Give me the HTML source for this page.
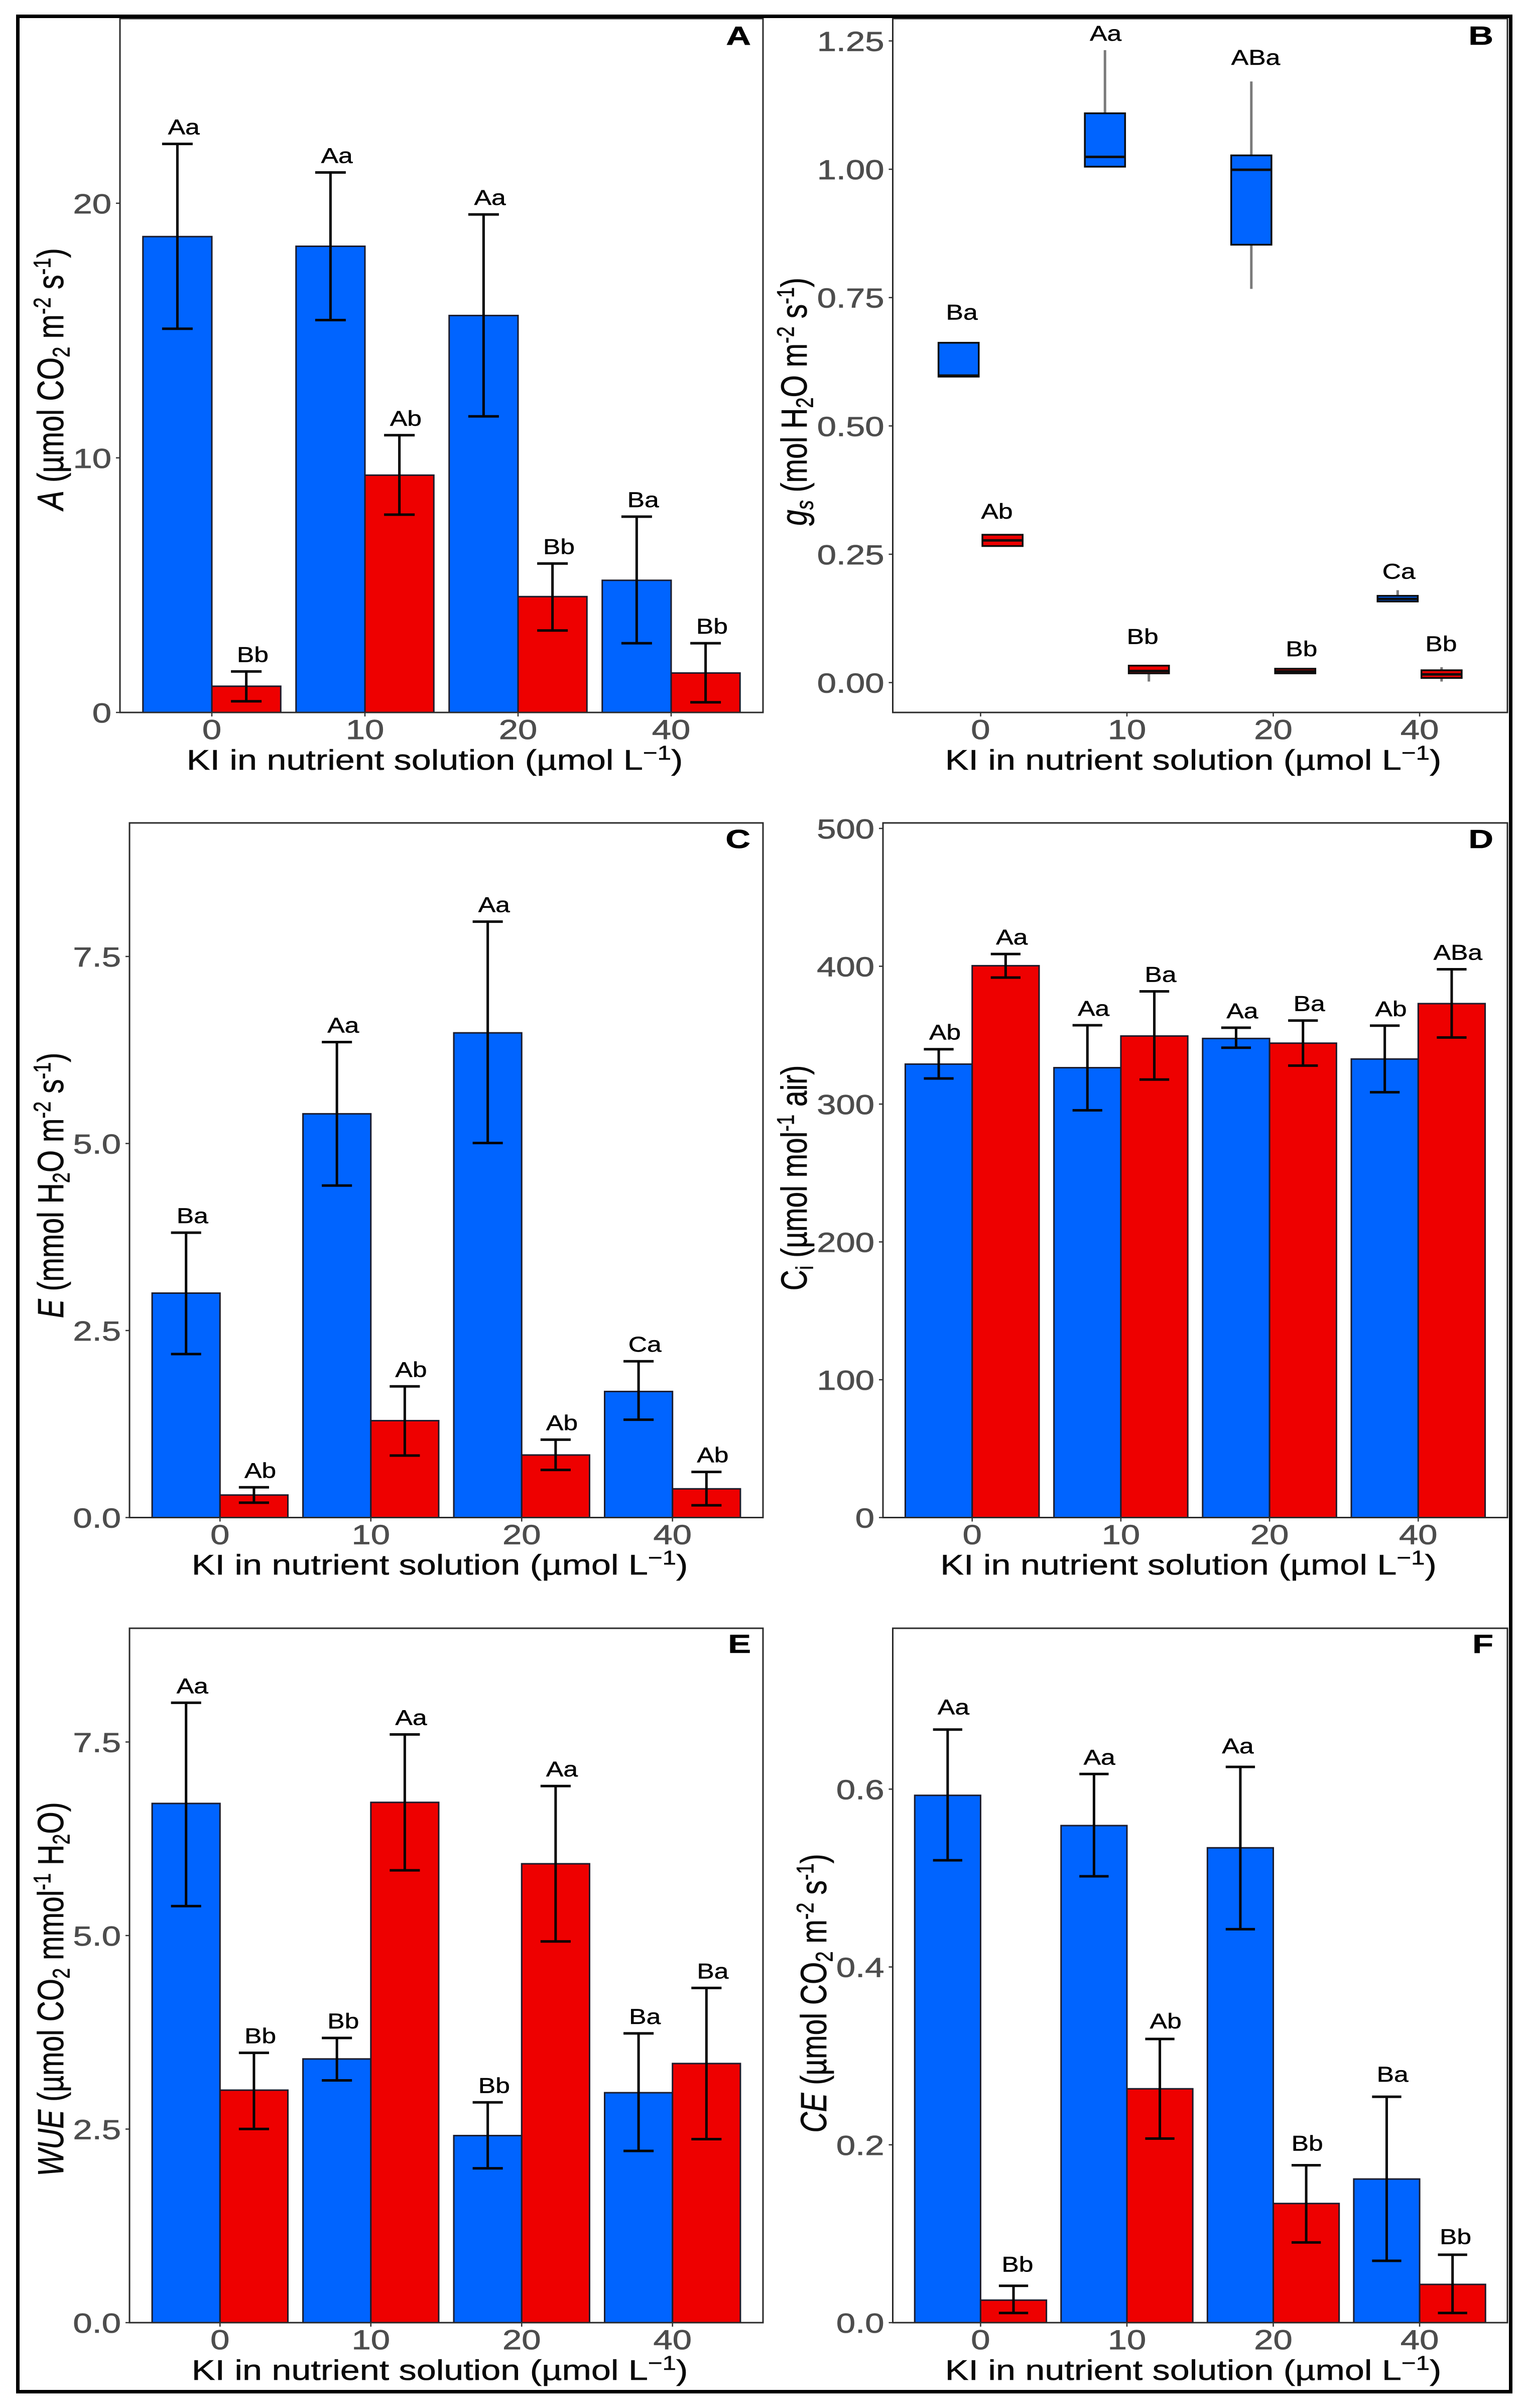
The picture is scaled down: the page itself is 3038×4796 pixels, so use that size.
<!DOCTYPE html>
<html lang="en">
<head>
<meta charset="utf-8">
<title>Gas exchange responses to KI in nutrient solution</title>
<style>
html,body{margin:0;padding:0;background:#fff;}
svg{display:block;}
text{font-family:"Liberation Sans",sans-serif;}
.ytitle,.xtitle{fill:#0a0a0a;stroke:#0a0a0a;stroke-width:0.6;}
.panel-letter{font-weight:bold;fill:#000;stroke:#000;stroke-width:0.6;}
</style>
</head>
<body>
<svg id="figure" xmlns="http://www.w3.org/2000/svg" width="3038" height="4796" viewBox="0 0 3038 4796">
  <rect x="0" y="0" width="3038" height="4796" fill="#ffffff"/>
  <g id="plots"></g>

  <!-- X axis titles -->
  <text class="xtitle" text-anchor="middle" font-size="57" transform="translate(866,1533) scale(1.23,1)">KI in nutrient solution (µmol L<tspan font-size="40" dy="-20">−1</tspan><tspan dy="20">)</tspan></text>
  <text class="xtitle" text-anchor="middle" font-size="57" transform="translate(2377,1533) scale(1.23,1)">KI in nutrient solution (µmol L<tspan font-size="40" dy="-20">−1</tspan><tspan dy="20">)</tspan></text>
  <text class="xtitle" text-anchor="middle" font-size="57" transform="translate(876,3136) scale(1.23,1)">KI in nutrient solution (µmol L<tspan font-size="40" dy="-20">−1</tspan><tspan dy="20">)</tspan></text>
  <text class="xtitle" text-anchor="middle" font-size="57" transform="translate(2367.5,3136) scale(1.23,1)">KI in nutrient solution (µmol L<tspan font-size="40" dy="-20">−1</tspan><tspan dy="20">)</tspan></text>
  <text class="xtitle" text-anchor="middle" font-size="57" transform="translate(876,4740) scale(1.23,1)">KI in nutrient solution (µmol L<tspan font-size="40" dy="-20">−1</tspan><tspan dy="20">)</tspan></text>
  <text class="xtitle" text-anchor="middle" font-size="57" transform="translate(2377,4740) scale(1.23,1)">KI in nutrient solution (µmol L<tspan font-size="40" dy="-20">−1</tspan><tspan dy="20">)</tspan></text>

  <!-- Y axis titles -->
  <text class="ytitle" text-anchor="middle" font-size="58" transform="translate(126,755) scale(1.27,1) rotate(-90)"><tspan font-style="italic">A</tspan> (µmol CO<tspan font-size="38" dy="10">2</tspan><tspan dy="-10"> m</tspan><tspan font-size="38" dy="-20">-2</tspan><tspan dy="20"> s</tspan><tspan font-size="38" dy="-20">-1</tspan><tspan dy="20">)</tspan></text>
  <text class="ytitle" text-anchor="middle" font-size="57" transform="translate(1607,800) scale(1.27,1) rotate(-90)"><tspan font-style="italic">g</tspan><tspan font-style="italic" font-size="38" dy="10">s</tspan><tspan dy="-10"> (mol H</tspan><tspan font-size="38" dy="10">2</tspan><tspan dy="-10">O m</tspan><tspan font-size="38" dy="-20">-2</tspan><tspan dy="20"> s</tspan><tspan font-size="38" dy="-20">-1</tspan><tspan dy="20">)</tspan></text>
  <text class="ytitle" text-anchor="middle" font-size="57" transform="translate(126,2361) scale(1.27,1) rotate(-90)"><tspan font-style="italic">E</tspan> (mmol H<tspan font-size="38" dy="10">2</tspan><tspan dy="-10">O m</tspan><tspan font-size="38" dy="-20">-2</tspan><tspan dy="20"> s</tspan><tspan font-size="38" dy="-20">-1</tspan><tspan dy="20">)</tspan></text>
  <text class="ytitle" text-anchor="middle" font-size="57" transform="translate(1607,2346) scale(1.27,1) rotate(-90)">C<tspan font-size="38" dy="10">i</tspan><tspan dy="-10"> (µmol mol</tspan><tspan font-size="38" dy="-20">-1</tspan><tspan dy="20"> air)</tspan></text>
  <text class="ytitle" text-anchor="middle" font-size="57" transform="translate(126,3962) scale(1.27,1) rotate(-90)"><tspan font-style="italic">WUE</tspan> (µmol CO<tspan font-size="38" dy="10">2</tspan><tspan dy="-10"> mmol</tspan><tspan font-size="38" dy="-20">-1</tspan><tspan dy="20"> H</tspan><tspan font-size="38" dy="10">2</tspan><tspan dy="-10">O)</tspan></text>
  <text class="ytitle" text-anchor="middle" font-size="57" transform="translate(1646,3970) scale(1.27,1) rotate(-90)"><tspan font-style="italic">CE</tspan> (µmol CO<tspan font-size="38" dy="10">2</tspan><tspan dy="-10"> m</tspan><tspan font-size="38" dy="-20">-2</tspan><tspan dy="20"> s</tspan><tspan font-size="38" dy="-20">-1</tspan><tspan dy="20">)</tspan></text>

  <!-- Panel letters -->
  <text class="panel-letter" text-anchor="end" font-size="52" transform="translate(1496,89) scale(1.32,1)">A</text>
  <text class="panel-letter" text-anchor="end" font-size="52" transform="translate(2975,89) scale(1.32,1)">B</text>
  <text class="panel-letter" text-anchor="end" font-size="52" transform="translate(1495,1689) scale(1.32,1)">C</text>
  <text class="panel-letter" text-anchor="end" font-size="52" transform="translate(2975,1689) scale(1.32,1)">D</text>
  <text class="panel-letter" text-anchor="end" font-size="52" transform="translate(1496,3292) scale(1.32,1)">E</text>
  <text class="panel-letter" text-anchor="end" font-size="52" transform="translate(2975,3292) scale(1.32,1)">F</text>

  <rect x="35.5" y="32.5" width="2974" height="4731" fill="none" stroke="#000000" stroke-width="7"/>
</svg>

<script>
// ---------- shared categories ----------
const categories = ['0', '10', '20', '40'];

// ---------- Panel A ----------
const aTickLabels = ['0', '10', '20'];
const aBlue = [18.69, 18.31, 15.59, 5.19];
const aRed = [1.03, 9.32, 4.55, 1.55];
const aBlueUpper = [22.33, 21.21, 19.56, 7.69];
const aBlueLower = [15.07, 15.41, 11.63, 2.72];
const aRedUpper = [1.61, 10.89, 5.85, 2.72];
const aRedLower = [0.44, 7.77, 3.22, 0.40];
const aBlueLetters = ['Aa', 'Aa', 'Aa', 'Ba'];
const aRedLetters = ['Bb', 'Ab', 'Bb', 'Bb'];

// ---------- Panel B (boxplots) ----------
const bTickLabels = ['0.00', '0.25', '0.50', '0.75', '1.00', '1.25'];
const bBlueQ1 = [0.596, 1.005, 0.853, 0.158];
const bBlueMedian = [0.598, 1.024, 0.999, 0.163];
const bBlueQ3 = [0.662, 1.109, 1.027, 0.169];
const bBlueWhiskerHigh = [0.662, 1.232, 1.171, 0.180];
const bBlueWhiskerLow = [0.596, 1.005, 0.767, 0.158];
const bRedQ1 = [0.266, 0.018, 0.018, 0.009];
const bRedMedian = [0.277, 0.0225, 0.022, 0.016];
const bRedQ3 = [0.288, 0.033, 0.027, 0.024];
const bRedWhiskerHigh = [0.288, 0.033, 0.027, 0.030];
const bRedWhiskerLow = [0.266, 0.002, 0.018, 0.002];
const bBlueLetters = ['Ba', 'Aa', 'ABa', 'Ca'];
const bRedLetters = ['Ab', 'Bb', 'Bb', 'Bb'];
const bBlueLabelHeight = [0.722, 1.265, 1.218, 0.217];
const bRedLabelHeight = [0.334, 0.090, 0.066, 0.076];
const bBlueLabelNudge = [0.022, 0.005, 0.030, 0.008];
const bRedLabelNudge = [-0.038, -0.043, 0.043, -0.003];

// ---------- Panel C ----------
const cTickLabels = ['0.0', '2.5', '5.0', '7.5'];
const cBlue = [3.0, 5.397, 6.479, 1.685];
const cRed = [0.301, 1.295, 0.836, 0.384];
const cBlueUpper = [3.808, 6.356, 7.966, 2.089];
const cBlueLower = [2.185, 4.438, 5.007, 1.308];
const cRedUpper = [0.404, 1.753, 1.041, 0.610];
const cRedLower = [0.199, 0.829, 0.637, 0.164];
const cBlueLetters = ['Ba', 'Aa', 'Aa', 'Ca'];
const cRedLetters = ['Ab', 'Ab', 'Ab', 'Ab'];

// ---------- Panel D ----------
const dTickLabels = ['0', '100', '200', '300', '400', '500'];
const dBlue = [329, 326.4, 347.6, 332.7];
const dRed = [400.4, 349.4, 344.2, 372.9];
const dBlueUpper = [339.8, 357.2, 355.4, 356.9];
const dBlueLower = [318.6, 295.5, 340.9, 308.6];
const dRedUpper = [408.9, 381.8, 360.6, 397.8];
const dRedLower = [391.8, 317.8, 327.9, 348.3];
const dBlueLetters = ['Ab', 'Aa', 'Aa', 'Ab'];
const dRedLetters = ['Aa', 'Ba', 'Ba', 'ABa'];

// ---------- Panel E ----------
const eTickLabels = ['0.0', '2.5', '5.0', '7.5'];
const eBlue = [6.706, 3.406, 2.416, 2.97];
const eRed = [3.003, 6.72, 5.927, 3.347];
const eBlueUpper = [8.007, 3.677, 2.845, 3.736];
const eBlueLower = [5.38, 3.129, 1.993, 2.218];
const eRedUpper = [3.485, 7.597, 6.931, 4.323];
const eRedLower = [2.502, 5.842, 4.924, 2.37];
const eBlueLetters = ['Aa', 'Bb', 'Bb', 'Ba'];
const eRedLetters = ['Bb', 'Aa', 'Aa', 'Ba'];

// ---------- Panel F ----------
const fTickLabels = ['0.0', '0.2', '0.4', '0.6'];
const fBlue = [0.593, 0.559, 0.534, 0.1615];
const fRed = [0.0253, 0.263, 0.134, 0.043];
const fBlueUpper = [0.667, 0.617, 0.625, 0.254];
const fBlueLower = [0.520, 0.502, 0.4425, 0.0695];
const fRedUpper = [0.0414, 0.319, 0.177, 0.0764];
const fRedLower = [0.0109, 0.207, 0.0902, 0.0109];
const fBlueLetters = ['Aa', 'Aa', 'Aa', 'Ba'];
const fRedLetters = ['Bb', 'Ab', 'Bb', 'Bb'];
const fBlueLabelLift = [0.0063, 0, 0.0046, 0.0063];
const fRedLabelLift = [0.0052, 0.0011, 0.0057, 0.0011];
const fBlueLabelNudge = [0.040, 0.037, -0.017, 0.040];
const fRedLabelNudge = [0.027, 0.040, 0.007, 0.020];

const SVG_NS = 'http://www.w3.org/2000/svg';
const BLUE = '#0064ff';
const RED = '#ee0000';
const plots = document.getElementById('plots');

function make(parent, tag, attrs) {
  const el = document.createElementNS(SVG_NS, tag);
  for (const key in attrs) el.setAttribute(key, attrs[key]);
  parent.appendChild(el);
  return el;
}

function makeAxes(id, box) {
  const panel = make(plots, 'g', {});
  
  
  box.x = function (cat) { return box.left + (cat + 0.6) * (box.right - box.left) / 4.2; };
  box.y = function (v) { return box.zero - v * box.unit; };
  box.spacing = (box.right - box.left) / 4.2;
  return panel;
}

function drawFrameAndTicks(panel, id, box, tickLabels) {
  const border = make(panel, 'rect', {
    x: box.left, y: box.top, width: box.right - box.left, height: box.bottom - box.top,
    fill: 'none', stroke: '#2a2a2a', 'stroke-width': 3
  });
  
  

  tickLabels.forEach(function (label) {
    const py = box.y(parseFloat(label));
    const tick = make(panel, 'line', {
      x1: box.left - 8, x2: box.left, y1: py, y2: py, stroke: '#333333', 'stroke-width': 2.5
    });
    
    
    const text = make(panel, 'text', {
      'text-anchor': 'end', 'font-size': 55, fill: '#4d4d4d', stroke: '#4d4d4d', 'stroke-width': 0.8,
      transform: 'translate(' + (box.left - 17) + ',' + (py + 20) + ') scale(1.25,1)'
    });
    text.textContent = label;
    
    
  });

  categories.forEach(function (label, i) {
    const px = box.x(i);
    const tick = make(panel, 'line', {
      x1: px, x2: px, y1: box.bottom, y2: box.bottom + 8, stroke: '#333333', 'stroke-width': 2.5
    });
    
    
    const text = make(panel, 'text', {
      'text-anchor': 'middle', 'font-size': 55, fill: '#4d4d4d', stroke: '#4d4d4d', 'stroke-width': 0.8,
      transform: 'translate(' + px + ',' + (box.bottom + 53) + ') scale(1.25,1)'
    });
    text.textContent = label;
    
    
  });
}

function drawLetter(panel, px, py, letter) {
  const text = make(panel, 'text', {
    'text-anchor': 'middle', 'font-size': 43, fill: '#000000', stroke: '#000000', 'stroke-width': 0.5,
    transform: 'translate(' + px + ',' + py + ') scale(1.2,1)'
  });
  text.textContent = letter;
  
  
}

function drawBarSeries(panel, box, seriesName, side, color, values, upper, lower, letters, lift, nudge) {
  const barWidth = box.spacing * 0.45;
  values.forEach(function (v, i) {
    const cx = box.x(i);
    const x0 = side < 0 ? cx - barWidth : cx;
    const bar = make(panel, 'rect', {
      x: x0, y: box.y(v), width: barWidth, height: box.zero - box.y(v),
      fill: color, stroke: '#1c1c2c', 'stroke-width': 3
    });
    
    
  });
  values.forEach(function (v, i) {
    const mid = box.x(i) + side * barWidth / 2;
    const capHalf = box.spacing * 0.1;
    const group = make(panel, 'path', {
      d: 'M' + (mid - capHalf) + ' ' + box.y(upper[i]) + 'H' + (mid + capHalf) +
         'M' + mid + ' ' + box.y(upper[i]) + 'V' + box.y(lower[i]) +
         'M' + (mid - capHalf) + ' ' + box.y(lower[i]) + 'H' + (mid + capHalf),
      fill: 'none', stroke: '#050505', 'stroke-width': 5
    });
    
    
    const extra = lift ? lift[i] : 0;
    const shift = nudge ? nudge[i] : 0.042;
    drawLetter(panel, mid + shift * box.spacing, box.y(upper[i] + extra) - 19, letters[i]);
  });
}

function drawBoxSeries(panel, box, seriesName, side, color, q1, med, q3, hi, lo, letters, heights, nudges) {
  const width = box.spacing * 0.275;
  q1.forEach(function (v, i) {
    const cx = box.x(i) + side * box.spacing * 0.15;
    const whisker = make(panel, 'line', {
      x1: cx, x2: cx, y1: box.y(hi[i]), y2: box.y(lo[i]), stroke: '#7a7a7a', 'stroke-width': 5
    });
    
    
    const rect = make(panel, 'rect', {
      x: cx - width / 2, y: box.y(q3[i]), width: width, height: box.y(v) - box.y(q3[i]),
      fill: color, stroke: '#0d0d0d', 'stroke-width': 3.5
    });
    
    
    const median = make(panel, 'line', {
      x1: cx - width / 2, x2: cx + width / 2, y1: box.y(med[i]), y2: box.y(med[i]),
      stroke: '#0d0d0d', 'stroke-width': 5
    });
    
    
    drawLetter(panel, cx + nudges[i] * box.spacing, box.y(heights[i]) + 15, letters[i]);
  });
}

function barPanel(id, box, ticks, blue, red, bUp, bLo, rUp, rLo, bLetters, rLetters, bLift, rLift, bNudge, rNudge) {
  const panel = makeAxes(id, box);
  drawBarSeries(panel, box, 'blue', -1, BLUE, blue, bUp, bLo, bLetters, bLift, bNudge);
  drawBarSeries(panel, box, 'red', 1, RED, red, rUp, rLo, rLetters, rLift, rNudge);
  drawFrameAndTicks(panel, id, box, ticks);
}

barPanel('a', { left: 239, right: 1520, top: 37, bottom: 1419, zero: 1419, unit: 50.71 },
  aTickLabels, aBlue, aRed, aBlueUpper, aBlueLower, aRedUpper, aRedLower, aBlueLetters, aRedLetters);

(function () {
  const box = { left: 1778.5, right: 3003, top: 37, bottom: 1419, zero: 1359.5, unit: 1022.4 };
  const panel = makeAxes('b', box);
  drawBoxSeries(panel, box, 'blue', -1, BLUE, bBlueQ1, bBlueMedian, bBlueQ3, bBlueWhiskerHigh, bBlueWhiskerLow, bBlueLetters, bBlueLabelHeight, bBlueLabelNudge);
  drawBoxSeries(panel, box, 'red', 1, RED, bRedQ1, bRedMedian, bRedQ3, bRedWhiskerHigh, bRedWhiskerLow, bRedLetters, bRedLabelHeight, bRedLabelNudge);
  drawFrameAndTicks(panel, 'b', box, bTickLabels);
})();

barPanel('c', { left: 258, right: 1520, top: 1639, bottom: 3022.5, zero: 3022.5, unit: 149 },
  cTickLabels, cBlue, cRed, cBlueUpper, cBlueLower, cRedUpper, cRedLower, cBlueLetters, cRedLetters);

barPanel('d', { left: 1759, right: 3003, top: 1639, bottom: 3022.5, zero: 3022.5, unit: 2.745 },
  dTickLabels, dBlue, dRed, dBlueUpper, dBlueLower, dRedUpper, dRedLower, dBlueLetters, dRedLetters);

barPanel('e', { left: 258, right: 1520, top: 3243, bottom: 4626, zero: 4626, unit: 154.2 },
  eTickLabels, eBlue, eRed, eBlueUpper, eBlueLower, eRedUpper, eRedLower, eBlueLetters, eRedLetters);

barPanel('f', { left: 1778.5, right: 3003, top: 3243, bottom: 4626, zero: 4626, unit: 1771 },
  fTickLabels, fBlue, fRed, fBlueUpper, fBlueLower, fRedUpper, fRedLower, fBlueLetters, fRedLetters,
  fBlueLabelLift, fRedLabelLift, fBlueLabelNudge, fRedLabelNudge);
</script>
</body>
</html>
